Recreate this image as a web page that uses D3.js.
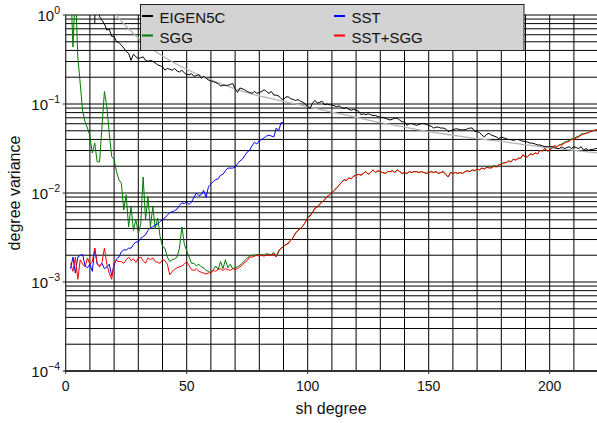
<!DOCTYPE html>
<html>
<head>
<meta charset="utf-8">
<script src="https://cdn.jsdelivr.net/npm/d3@7"></script>
<style>
  body { margin: 0; background: #fff; }
  svg { display: block; font-family: "Liberation Sans", Arial, Helvetica, sans-serif; }
</style>
</head>
<body>
<svg id="chart" width="597" height="423"></svg>
<script>
// values are log10(degree variance), one per sh degree starting at *Start
var eigenStart = 12;
var eigenLog = [
  -0.09, 1.0, -0.02, -0.06, -0.10, -0.17, -0.16, -0.24,
  -0.24, -0.30, -0.31, -0.34, -0.37, -0.41, -0.43, -0.51, -0.44, -0.47,
  -0.49, -0.48, -0.47, -0.51, -0.52, -0.51, -0.52, -0.54, -0.56, -0.57,
  -0.58, -0.62, -0.60, -0.61, -0.62, -0.60, -0.63, -0.64, -0.62, -0.65,
  -0.67, -0.67, -0.66, -0.69, -0.68, -0.67, -0.71, -0.69, -0.71, -0.73,
  -0.74, -0.75, -0.76, -0.77, -0.80, -0.79, -0.79, -0.79, -0.78, -0.77,
  -0.83, -0.87, -0.82, -0.83, -0.84, -0.86, -0.87, -0.88, -0.86, -0.88,
  -0.87, -0.86, -0.84, -0.86, -0.88, -0.86, -0.90, -0.90, -0.91, -0.94,
  -0.95, -0.92, -0.92, -0.94, -0.95, -0.96, -0.95, -0.97, -0.98, -1.00,
  -1.03, -1.05, -0.99, -0.96, -0.99, -0.98, -0.97, -1.01, -1.00, -1.01,
  -1.01, -1.02, -1.03, -1.02, -1.04, -1.05, -1.04, -1.06, -1.07, -1.06,
  -1.07, -1.08, -1.12, -1.11, -1.12, -1.11, -1.12, -1.13, -1.13, -1.14,
  -1.15, -1.15, -1.16, -1.17, -1.18, -1.17, -1.16, -1.16, -1.18, -1.20,
  -1.20, -1.24, -1.22, -1.22, -1.23, -1.24, -1.23, -1.22, -1.22, -1.23,
  -1.24, -1.25, -1.27, -1.26, -1.26, -1.27, -1.27, -1.28, -1.31, -1.30,
  -1.29, -1.28, -1.28, -1.29, -1.29, -1.29, -1.28, -1.27, -1.27, -1.31,
  -1.31, -1.32, -1.35, -1.37, -1.34, -1.33, -1.35, -1.36, -1.37, -1.39,
  -1.37, -1.38, -1.39, -1.40, -1.40, -1.41, -1.40, -1.40, -1.41, -1.42,
  -1.42, -1.43, -1.44, -1.44, -1.45, -1.46, -1.46, -1.47, -1.48, -1.48,
  -1.48, -1.48, -1.49, -1.50, -1.50, -1.48, -1.50, -1.49, -1.48, -1.50,
  -1.48, -1.49, -1.50, -1.48, -1.52, -1.50, -1.52, -1.51, -1.51, -1.50, -1.50
];

var sggStart = 2;
var sggLog = [
  0.40, -0.36, 0.30, -0.47, -0.77, -1.08, -1.20, -1.27,
  -1.36, -1.55, -1.44, -1.65, -1.65, -1.25, -0.86, -1.03, -1.33, -1.59,
  -1.62, -1.76, -1.85, -1.89, -2.19, -2.02, -2.38, -2.15, -2.42, -2.30,
  -2.45, -2.35, -1.82, -2.30, -2.04, -2.38, -2.15, -2.40, -2.28, -2.49,
  -2.60, -2.62, -2.72, -2.77, -2.75, -2.74, -2.72, -2.62, -2.38, -2.57,
  -2.65, -2.72, -2.79, -2.79, -2.82, -2.80, -2.83, -2.84, -2.87, -2.88,
  -2.90, -2.86, -2.82, -2.86, -2.77, -2.85, -2.75, -2.84, -2.80, -2.85,
  -2.84, -2.83, -2.81, -2.79, -2.76, -2.73, -2.71, -2.70, -2.70, -2.69,
  -2.70, -2.69, -2.70, -2.68, -2.69, -2.69, -2.67, -2.71, -2.65, -2.62,
  -2.60, -2.58, -2.56, -2.53, -2.50, -2.45, -2.42, -2.40, -2.37, -2.33,
  -2.27, -2.25, -2.21, -2.17, -2.15, -2.12, -2.10, -2.07, -2.04, -2.02,
  -2.00, -1.97, -1.94, -1.91, -1.88, -1.85, -1.86, -1.83, -1.84, -1.81,
  -1.80, -1.79, -1.80, -1.78, -1.76, -1.79, -1.77, -1.74, -1.77, -1.75,
  -1.76, -1.77, -1.78, -1.76, -1.76, -1.75, -1.77, -1.74, -1.76, -1.78,
  -1.77, -1.78, -1.76, -1.77, -1.76, -1.76, -1.77, -1.76, -1.77, -1.78,
  -1.77, -1.76, -1.77, -1.76, -1.78, -1.77, -1.76, -1.79, -1.82, -1.77,
  -1.78, -1.77, -1.78, -1.77, -1.78, -1.76, -1.75, -1.76, -1.74, -1.75,
  -1.73, -1.74, -1.72, -1.73, -1.71, -1.71, -1.71, -1.69, -1.70, -1.68,
  -1.68, -1.66, -1.66, -1.64, -1.65, -1.62, -1.63, -1.61, -1.61, -1.57,
  -1.60, -1.59, -1.56, -1.57, -1.55, -1.56, -1.52, -1.53, -1.50, -1.53,
  -1.52, -1.49, -1.47, -1.48, -1.46, -1.45, -1.43, -1.42, -1.41, -1.39,
  -1.39, -1.37, -1.36, -1.34, -1.33, -1.33, -1.32, -1.31, -1.30, -1.29, -1.29
];

var sstStart = 2;
var sstLog = [
  -2.85, -2.72, -2.90, -2.72, -2.70, -2.69, -2.82, -2.84,
  -2.80, -2.88, -2.62, -2.80, -2.82, -2.79, -2.85, -2.83, -2.80, -2.93,
  -2.81, -2.74, -2.72, -2.66, -2.64, -2.64, -2.62, -2.62, -2.58, -2.55,
  -2.55, -2.51, -2.49, -2.47, -2.42, -2.39, -2.38, -2.36, -2.35, -2.32,
  -2.30, -2.28, -2.25, -2.22, -2.21, -2.20, -2.18, -2.14, -2.11, -2.12,
  -2.10, -2.13, -2.10, -2.05, -2.00, -2.03, -2.02, -1.97, -2.05, -1.93,
  -1.90, -1.87, -1.85, -1.84, -1.80, -1.79, -1.75, -1.72, -1.72, -1.72,
  -1.71, -1.67, -1.64, -1.62, -1.58, -1.54, -1.52, -1.47, -1.43, -1.45,
  -1.41, -1.40, -1.38, -1.36, -1.35, -1.36, -1.37, -1.27, -1.30, -1.21,
  -1.21
];

var combStart = 2;
var combLog = [
  -2.79, -2.88, -2.72, -2.97, -2.75, -2.80, -2.83, -2.73,
  -2.80, -2.77, -2.62, -2.79, -2.83, -2.78, -2.62, -2.80, -2.90, -2.97,
  -2.78, -2.76, -2.77, -2.77, -2.79, -2.75, -2.72, -2.76, -2.74, -2.78,
  -2.73, -2.72, -2.76, -2.79, -2.73, -2.75, -2.73, -2.77, -2.78, -2.79,
  -2.75, -2.76, -2.80, -2.92, -2.88, -2.86, -2.84, -2.83, -2.82, -2.80,
  -2.77, -2.82, -2.86, -2.87, -2.85, -2.88, -2.89, -2.90, -2.91, -2.90,
  -2.89, -2.87, -2.88, -2.86, -2.85, -2.87, -2.85, -2.86, -2.87, -2.85,
  -2.86, -2.85, -2.83, -2.81, -2.78, -2.76, -2.72, -2.72, -2.71, -2.70,
  -2.71, -2.70, -2.71, -2.69, -2.70, -2.70, -2.68, -2.72, -2.66, -2.62,
  -2.60, -2.58, -2.57, -2.53, -2.50, -2.45, -2.42, -2.40, -2.37, -2.33,
  -2.28, -2.26, -2.22, -2.17, -2.16, -2.13, -2.10, -2.08, -2.04, -2.02,
  -2.00, -1.97, -1.94, -1.91, -1.88, -1.85, -1.86, -1.83, -1.84, -1.81,
  -1.80, -1.79, -1.80, -1.78, -1.76, -1.79, -1.77, -1.74, -1.77, -1.75,
  -1.76, -1.77, -1.78, -1.76, -1.76, -1.75, -1.77, -1.74, -1.76, -1.78,
  -1.77, -1.78, -1.76, -1.77, -1.76, -1.76, -1.77, -1.76, -1.77, -1.78,
  -1.77, -1.76, -1.77, -1.76, -1.78, -1.77, -1.76, -1.79, -1.82, -1.77,
  -1.78, -1.77, -1.78, -1.77, -1.78, -1.76, -1.75, -1.76, -1.74, -1.75,
  -1.73, -1.74, -1.72, -1.73, -1.71, -1.72, -1.72, -1.70, -1.71, -1.68,
  -1.68, -1.66, -1.66, -1.64, -1.65, -1.62, -1.63, -1.61, -1.61, -1.57,
  -1.60, -1.59, -1.56, -1.57, -1.55, -1.56, -1.52, -1.53, -1.50, -1.53,
  -1.52, -1.49, -1.47, -1.48, -1.46, -1.46, -1.44, -1.43, -1.42, -1.40,
  -1.40, -1.38, -1.37, -1.35, -1.34, -1.33, -1.32, -1.31, -1.30, -1.29, -1.29
];

// smooth reference curve (gray)
var refDeg = [20, 30, 40, 50, 60, 70, 80, 90, 100, 110, 120, 130, 140, 150, 160, 170, 180, 190, 200, 210, 220];
var refLog = [0.02, -0.26, -0.46, -0.61, -0.73, -0.83, -0.91, -0.97, -1.03, -1.09, -1.15, -1.21, -1.26, -1.31, -1.35, -1.39, -1.42, -1.46, -1.49, -1.52, -1.55];

var xTicks = [0, 50, 100, 150, 200];
var yTicks = [1e-4, 1e-3, 1e-2, 1e-1, 1];
var yTickExp = ["\u22124", "\u22123", "\u22122", "\u22121", "0"];

var seriesNames = ["EIGEN5C", "SGG", "SST", "SST+SGG"];
var seriesColors = ["#000000", "#007a00", "#0000ff", "#ff0000"];

function toPoints(start, logs) {
  return logs.map(function (v, i) { return { n: start + i, v: Math.pow(10, v) }; });
}

var svg = d3.select("#chart");
var x = d3.scaleLinear().domain([0, 220]).range([65.7, 598.1]);
var y = d3.scaleLog().domain([1e-4, 1]).range([371, 15]);

svg.append("defs").append("clipPath").attr("id", "plot")
  .append("rect").attr("x", x(0)).attr("y", y(1))
  .attr("width", x(220) - x(0)).attr("height", y(1e-4) - y(1));

// grid
var grid = svg.append("g").attr("stroke", "#000").attr("stroke-width", 1);
grid.selectAll("line.v").data(d3.range(10, 221, 10)).enter().append("line")
  .attr("x1", function (d) { return x(d); }).attr("x2", function (d) { return x(d); })
  .attr("y1", y(1)).attr("y2", y(1e-4));
var yGrid = [];
[-4, -3, -2, -1].forEach(function (k) {
  for (var m = 1; m <= 9; m++) yGrid.push(m * Math.pow(10, k));
});
yGrid.push(1);
grid.selectAll("line.h").data(yGrid).enter().append("line")
  .attr("x1", x(0)).attr("x2", x(220))
  .attr("y1", function (d) { return y(d); }).attr("y2", function (d) { return y(d); });

// axes frame + ticks
svg.append("line").attr("x1", x(0)).attr("x2", x(0)).attr("y1", y(1)).attr("y2", y(1e-4))
  .attr("stroke", "#222").attr("stroke-width", 1.2);
svg.append("line").attr("x1", x(0) - 1).attr("x2", x(220)).attr("y1", y(1e-4)).attr("y2", y(1e-4))
  .attr("stroke", "#333").attr("stroke-width", 1.8);

svg.selectAll("line.xt").data(xTicks).enter().append("line")
  .attr("x1", function (d) { return x(d); }).attr("x2", function (d) { return x(d); })
  .attr("y1", y(1e-4)).attr("y2", y(1e-4) + 3).attr("stroke", "#333");
svg.selectAll("text.xt").data(xTicks).enter().append("text")
  .attr("x", function (d) { return x(d); }).attr("y", 391)
  .attr("text-anchor", "middle").attr("font-size", 14).attr("fill", "#111")
  .text(function (d) { return d; });

svg.selectAll("line.yt").data(yTicks).enter().append("line")
  .attr("x1", x(0) - 3).attr("x2", x(0))
  .attr("y1", function (d) { return y(d); }).attr("y2", function (d) { return y(d); })
  .attr("stroke", "#333");
var yl = svg.selectAll("text.yt").data(yTicks).enter().append("text")
  .attr("x", 60).attr("y", function (d) { return y(d) + 6; })
  .attr("text-anchor", "end").attr("font-size", 15).attr("fill", "#111");
yl.append("tspan").text("10");
yl.append("tspan").attr("dy", -7).attr("font-size", 10.5)
  .text(function (d, i) { return yTickExp[i]; });

svg.append("text").attr("x", 331).attr("y", 414).attr("text-anchor", "middle")
  .attr("font-size", 16).attr("fill", "#111").text("sh degree");
svg.append("text").attr("transform", "translate(20,193) rotate(-90)")
  .attr("text-anchor", "middle").attr("font-size", 16).attr("fill", "#111")
  .text("degree variance");

// data lines
var line = d3.line()
  .x(function (d) { return x(d.n); })
  .y(function (d) { return y(d.v); });
var plot = svg.append("g").attr("clip-path", "url(#plot)").attr("fill", "none");

var refPts = refDeg.map(function (n, i) { return { n: n, v: Math.pow(10, refLog[i]) }; });
plot.append("path").datum(refPts)
  .attr("d", line.curve(d3.curveMonotoneX))
  .attr("stroke", "#b4b4b4").attr("stroke-width", 1.3);
line.curve(d3.curveLinear);

var seriesData = [
  toPoints(eigenStart, eigenLog),
  toPoints(sggStart, sggLog),
  toPoints(sstStart, sstLog),
  toPoints(combStart, combLog)
];
seriesData.forEach(function (pts, i) {
  plot.append("path").datum(pts).attr("d", line)
    .attr("stroke", seriesColors[i]).attr("stroke-width", 1);
});

// legend
var lg = svg.append("g");
lg.append("rect").attr("x", 140.5).attr("y", 4.5).attr("width", 383.5).attr("height", 46)
  .attr("fill", "#d3d3d3").attr("stroke", "#222").attr("stroke-width", 1);
var legPos = [[142, 16], [142, 35.5], [334, 16], [334, 35.5]];
seriesNames.forEach(function (name, i) {
  var p = legPos[i];
  lg.append("line").attr("x1", p[0]).attr("x2", p[0] + 11).attr("y1", p[1]).attr("y2", p[1])
    .attr("stroke", seriesColors[i]).attr("stroke-width", 2);
  lg.append("text").attr("x", p[0] + 17.5).attr("y", p[1] + 7.3)
    .attr("font-size", 15).attr("fill", "#111").text(name);
});
</script>
</body>
</html>
